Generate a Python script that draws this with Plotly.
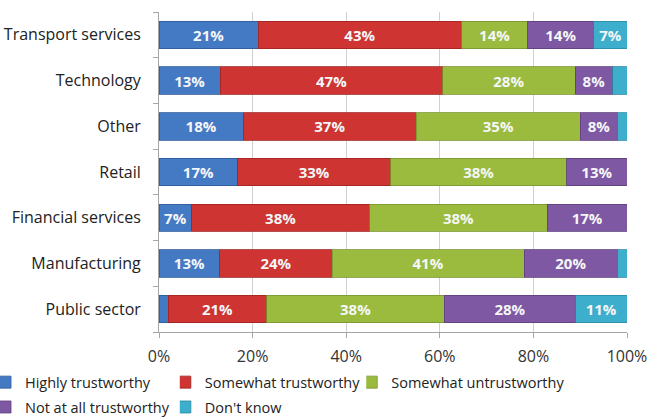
import plotly.graph_objects as go

# Sectors, listed bottom-to-top as drawn on the category axis
sectors = ["Public sector", "Manufacturing", "Financial services", "Retail",
           "Other", "Technology", "Transport services"]

# Share of respondents (%) per rating, same order as sectors
highly_trustworthy = [2, 13, 7, 17, 18, 13, 21]
somewhat_trustworthy = [21, 24, 38, 33, 37, 47, 43]
somewhat_untrustworthy = [38, 41, 38, 38, 35, 28, 14]
not_at_all_trustworthy = [28, 20, 17, 13, 8, 8, 14]
dont_know = [11, 2, 0, 0, 2, 3, 7]

x_ticks = [0, 20, 40, 60, 80, 100]
x_tick_labels = ["0%", "20%", "40%", "60%", "80%", "100%"]

# (name, values, fill, edge, legend column)
series = [
    ("Highly trustworthy", highly_trustworthy, "#4479C4", "#2F5A98", "legend"),
    ("Somewhat trustworthy", somewhat_trustworthy, "#CD3432", "#9E2422", "legend2"),
    ("Somewhat untrustworthy", somewhat_untrustworthy, "#9BBB3E", "#7A9530", "legend3"),
    ("Not at all trustworthy", not_at_all_trustworthy, "#7E58A2", "#5E3F7E", "legend"),
    ("Don't know", dont_know, "#3DAECB", "#2A8AA3", "legend2"),
]

FONT = "Open Sans, Lato, sans-serif"

fig = go.Figure()
for name, vals, color, edge, leg in series:
    fig.add_trace(go.Bar(
        y=sectors, x=vals, name=name, orientation="h",
        legend=leg, legendgroup=name,
        marker=dict(color=color, line=dict(color=edge, width=0.8)),
        text=[f"{v}%" if v >= 5 else "" for v in vals],
        textposition="inside", insidetextanchor="middle",
        textfont=dict(family=FONT, size=15, color="#F4F6F8", weight="bold"),
        constraintext="none",
        hoverinfo="x+y+name",
    ))

legend_common = dict(
    orientation="v", xref="container", yref="container",
    yanchor="top", xanchor="left", y=0.126,
    traceorder="grouped", tracegroupgap=3, itemwidth=30, indentation=-15,
    font=dict(family=FONT, size=14.5, color="#222"),
    bgcolor="rgba(0,0,0,0)",
)

fig.update_layout(
    width=654, height=419,
    barmode="stack", barnorm="percent", bargap=0.4,
    plot_bgcolor="white", paper_bgcolor="white",
    margin=dict(l=159, r=27, t=12, b=87, autoexpand=False),
    font=dict(family=FONT, size=16, color="#222"),
    legend=dict(legend_common, x=0.0),
    legend2=dict(legend_common, x=0.275),
    legend3=dict(legend_common, x=0.56),
    xaxis=dict(
        range=[0, 100], tickvals=x_ticks, ticktext=x_tick_labels,
        showgrid=True, gridcolor="#D0D0D0", gridwidth=1,
        showline=True, linecolor="#A6A6A6", linewidth=1,
        ticks="outside", ticklen=5, tickcolor="#A6A6A6",
        ticklabelstandoff=5,
        tickfont=dict(family=FONT, size=16, color="#333"), zeroline=False,
        fixedrange=True,
    ),
    yaxis=dict(
        type="category", categoryorder="array", categoryarray=sectors,
        showline=True, linecolor="#A6A6A6", linewidth=1,
        ticks="outside", ticklen=5, tickcolor="#A6A6A6",
        tickson="boundaries", showgrid=False,
        ticklabelstandoff=14,
        tickfont=dict(family=FONT, size=16, color="#222"),
        fixedrange=True,
    ),
)

fig.write_html("out.html")
